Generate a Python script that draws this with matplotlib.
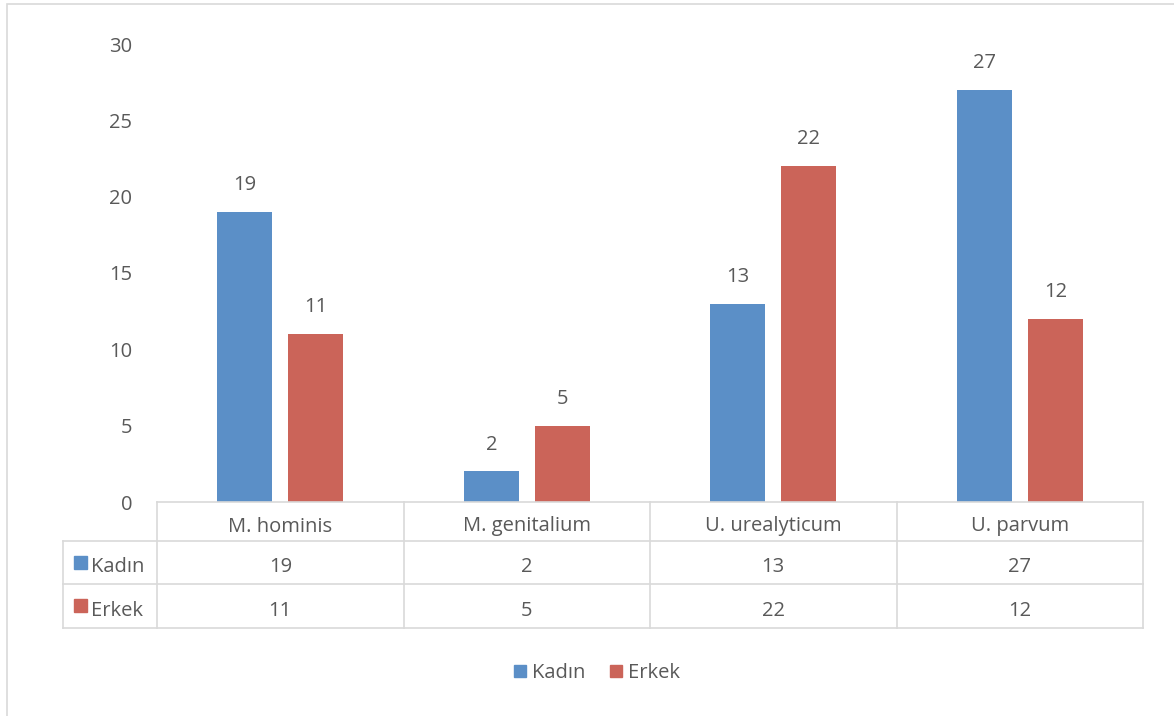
import matplotlib
matplotlib.use("Agg")
import matplotlib.pyplot as plt
from matplotlib.patches import Rectangle
from matplotlib.lines import Line2D
import numpy as np

categories = ["M. hominis", "M. genitalium", "U. urealyticum", "U. parvum"]
series_names = ["Kadın", "Erkek"]
kadin = [19, 2, 13, 27]
erkek = [11, 5, 22, 12]
yticks = [0, 5, 10, 15, 20, 25, 30]

colors = ["#5B8FC7", "#CB6459"]
text_color = "#595959"
grid_color = "#D9D9D9"
plt.rcParams['font.family'] = ['Open Sans', 'DejaVu Sans']

W, H = 1174, 716
fig = plt.figure(figsize=(W / 100, H / 100), dpi=100)

def fx(px):
    return px / W

def fy(py):
    return 1 - py / H

fs = 14.5

# chart frame
fig.patches.append(Rectangle((fx(7), fy(760)), fx(1200) - fx(7), fy(4) - fy(760),
                             transform=fig.transFigure, fill=False,
                             edgecolor=grid_color, linewidth=1.2))

left, right, top, bottom = 157, 1143, 44, 502
ax = fig.add_axes([fx(left), fy(bottom), fx(right) - fx(left), fy(top) - fy(bottom)])
n = len(categories)
x = np.arange(n)
bw = 0.223
off = 0.144
series = [kadin, erkek]
for i, (vals, c) in enumerate(zip(series, colors)):
    bars = ax.bar(x + (-off if i == 0 else off), vals, width=bw, color=c, zorder=2)
    ax.bar_label(bars, labels=[str(v) for v in vals], padding=12, fontsize=fs, color=text_color)
ax.set_xlim(-0.5, n - 0.5)
ax.set_ylim(0, 30)
ax.set_yticks(yticks)
ax.set_yticklabels([str(t) for t in yticks], fontsize=fs, color=text_color)
ax.tick_params(axis='y', length=0, pad=18)
ax.set_xticks([])
for s in ax.spines.values():
    s.set_visible(False)
ax.patch.set_alpha(0)

# data table
row_y = [502, 541, 584, 628]
tbl_left = 63
col_w = (right - left) / n
lw = 1.2
fig.add_artist(Line2D([fx(left), fx(right)], [fy(row_y[0])] * 2, color=grid_color, lw=lw))
for yy in row_y[1:]:
    fig.add_artist(Line2D([fx(tbl_left), fx(right)], [fy(yy)] * 2, color=grid_color, lw=lw))
fig.add_artist(Line2D([fx(tbl_left)] * 2, [fy(row_y[1]), fy(row_y[3])], color=grid_color, lw=lw))
for k in range(n + 1):
    xx = left + k * col_w
    fig.add_artist(Line2D([fx(xx)] * 2, [fy(row_y[0]), fy(row_y[3])], color=grid_color, lw=lw))

for k, cat in enumerate(categories):
    cx = left + (k + 0.5) * col_w
    fig.text(fx(cx), fy((row_y[0] + row_y[1]) / 2 + 5), cat, ha='center', va='center',
             fontsize=fs, color=text_color)
    for r, vals in enumerate(series):
        fig.text(fx(cx), fy((row_y[r + 1] + row_y[r + 2]) / 2 + 5), str(vals[k]),
                 ha='center', va='center', fontsize=fs, color=text_color)
for r, (name, c) in enumerate(zip(series_names, colors)):
    cy = (row_y[r + 1] + row_y[r + 2]) / 2
    fig.patches.append(Rectangle((fx(74), fy(cy + 6)), fx(13), fy(0) - fy(13),
                                 transform=fig.transFigure, color=c))
    fig.text(fx(91), fy(cy + 5), name, ha='left', va='center', fontsize=fs, color=text_color)

# legend
handles = [Rectangle((0, 0), 1, 1, color=c) for c in colors]
fig.legend(handles, series_names, loc='center', bbox_to_anchor=(fx(597), fy(673)),
           ncol=2, frameon=False, fontsize=fs, labelcolor=text_color,
           handlelength=0.6, handleheight=0.6, handletextpad=0.3, columnspacing=1.2)

fig.savefig("out.png", dpi=100)
